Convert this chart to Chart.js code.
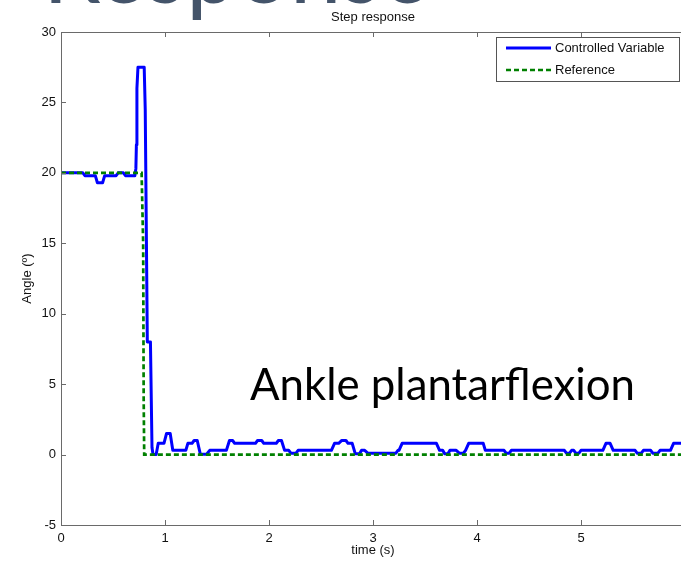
<!DOCTYPE html>
<html><head><meta charset="utf-8">
<script src="https://cdn.jsdelivr.net/npm/chart.js@4"></script>
<style>
html,body{margin:0;padding:0;background:#fff;overflow:hidden;width:681px;height:566px}
#wrap{position:absolute;left:0;top:0;width:685px;height:566px}
</style>
</head><body>
<div id="wrap"><canvas id="c" width="685" height="566"></canvas></div>
<script>
// ---- data ----
const cvTime  = [0,0.21,0.23,0.33,0.35,0.40,0.42,0.53,0.55,0.60,0.62,0.71,0.72,0.725,0.73,0.74,0.80,0.81,0.83,0.86,0.875,0.885,0.915,0.935,0.99,1.015,1.05,1.075,1.2,1.22,1.26,1.28,1.31,1.34,1.40,1.43,1.59,1.62,1.65,1.67,1.87,1.89,1.93,1.95,2.07,2.09,2.12,2.15,2.19,2.21,2.26,2.28,2.60,2.63,2.67,2.70,2.74,2.76,2.80,2.83,2.87,2.89,2.92,2.95,3.22,3.24,3.25,3.28,3.61,3.64,3.67,3.69,3.72,3.74,3.80,3.83,3.87,3.89,3.92,4.06,4.08,4.26,4.28,4.31,4.33,4.84,4.86,4.89,4.91,4.93,4.95,4.98,5.00,5.21,5.24,5.28,5.31,5.52,5.54,5.58,5.60,5.67,5.69,5.74,5.76,5.86,5.89,6.0];
const cvAngle = [20,20,19.8,19.8,19.3,19.3,19.8,19.8,20,20,19.8,19.8,20.3,22,26,27.5,27.5,24.5,8,8,0.5,0,0,0.8,0.8,1.5,1.5,0.3,0.3,0.8,0.8,1.0,1.0,0.02,0.02,0.3,0.3,1.0,1.0,0.8,0.8,1.0,1.0,0.8,0.8,1.0,1.0,0.3,0.3,0.1,0.1,0.3,0.3,0.8,0.8,1.0,1.0,0.8,0.8,0.05,0.05,0.3,0.3,0.1,0.1,0.3,0.3,0.8,0.8,0.3,0.3,0.05,0.05,0.3,0.3,0.1,0.1,0.3,0.8,0.8,0.3,0.3,0.1,0.1,0.3,0.3,0.1,0.1,0.3,0.3,0.1,0.1,0.3,0.3,0.8,0.8,0.3,0.3,0.1,0.1,0.3,0.3,0.1,0.1,0.3,0.3,0.8,0.8];
const refTime  = [0,0.775,0.79,0.795,0.80,6.0];
const refAngle = [20,20,15,4,0,0];
const xTicks = [0,1,2,3,4,5,6];
const yTicks = [-5,0,5,10,15,20,25,30];
const seriesLabels = ['Controlled Variable','Reference'];
const seriesColors = ['#0000ff','#008000'];
const chartTitle = 'Step response';
const xLabel = 'time (s)';
const yLabel = 'Angle (\u00BA)';
const slideTitle = 'Response';
const annotation = 'Ankle plantarflexion';

const FONT = 'Liberation Sans';
const AXIS = '#6a6a6a';

const toPts = (xs, ys) => xs.map((t, i) => ({x: t, y: ys[i]}));

function fitText(c, text, x, y, w) {
  const m = c.measureText(text).width;
  c.save();
  c.translate(x, y);
  c.scale(w / m, 1);
  c.fillText(text, 0, 0);
  c.restore();
}

const framePlugin = {
  id: 'frame',
  afterDatasetsDraw(chart) {
    const c = chart.ctx, a = chart.chartArea;
    const xs = chart.scales.x, ys = chart.scales.y;
    c.save();
    c.strokeStyle = AXIS; c.lineWidth = 1;
    c.beginPath();
    c.moveTo(a.left + 0.5, a.top + 0.5); c.lineTo(a.left + 0.5, a.bottom + 0.5);
    c.moveTo(a.left, a.top + 0.5); c.lineTo(a.right, a.top + 0.5);
    c.moveTo(a.left, a.bottom + 0.5); c.lineTo(a.right, a.bottom + 0.5);
    xTicks.forEach(v => {
      const px = Math.round(xs.getPixelForValue(v)) + 0.5;
      c.moveTo(px, a.bottom); c.lineTo(px, a.bottom - 5);
      c.moveTo(px, a.top); c.lineTo(px, a.top + 5);
    });
    yTicks.forEach(v => {
      const py = Math.round(ys.getPixelForValue(v)) + 0.5;
      c.moveTo(a.left, py); c.lineTo(a.left + 5, py);
    });
    c.stroke();
    c.restore();
  }
};

const legendPlugin = {
  id: 'boxLegend',
  afterDraw(chart) {
    const c = chart.ctx;
    const bx = 496.5, by = 37.5, bw = 183, bh = 44;
    c.save();
    c.fillStyle = '#fff'; c.fillRect(bx, by, bw, bh);
    c.strokeStyle = '#555'; c.lineWidth = 1; c.strokeRect(bx, by, bw, bh);
    const rows = [48, 70];
    chart.data.datasets.forEach((ds, i) => {
      const y = rows[i];
      c.beginPath();
      c.strokeStyle = ds.borderColor; c.lineWidth = ds.borderWidth;
      c.setLineDash(ds.borderDash || []);
      c.moveTo(506, y); c.lineTo(551, y); c.stroke();
      c.setLineDash([]);
      c.fillStyle = '#111';
      c.font = '13px "' + FONT + '"';
      c.textBaseline = 'middle'; c.textAlign = 'left';
      c.fillText(ds.label, 555, y + 0.5);
    });
    c.restore();
  }
};

const textPlugin = {
  id: 'slideText',
  afterDraw(chart) {
    const c = chart.ctx;
    c.save();
    c.textBaseline = 'alphabetic'; c.textAlign = 'left';
    c.fillStyle = '#44546a';
    c.font = '100px Lato';
    fitText(c, slideTitle, 43, 2.5, 387);
    c.fillStyle = '#000';
    c.font = '45px Lato';
    fitText(c, annotation, 250, 400, 385);
    c.restore();
  }
};

new Chart(document.getElementById('c'), {
  type: 'line',
  data: {
    datasets: [
      {label: seriesLabels[0], data: toPts(cvTime, cvAngle), borderColor: seriesColors[0], borderWidth: 3,
       pointRadius: 0, tension: 0, fill: false, order: 1, borderJoinStyle: 'round'},
      {label: seriesLabels[1], data: toPts(refTime, refAngle), borderColor: seriesColors[1], borderWidth: 2.7,
       borderDash: [5, 3], pointRadius: 0, tension: 0, fill: false, order: 0}
    ]
  },
  options: {
    responsive: false, animation: false, devicePixelRatio: 1,
    layout: {padding: 0},
    plugins: {
      legend: {display: false},
      tooltip: {enabled: false},
      title: {display: true, text: chartTitle, fullSize: false, color: '#111',
              font: {family: FONT, size: 13, weight: 'normal'}, padding: {top: 9.2, bottom: 7.2}}
    },
    scales: {
      x: {
        type: 'linear', min: 0, max: 6,
        afterBuildTicks: s => { s.ticks = xTicks.map(v => ({value: v})); },
        afterFit: s => { s.height = 41; s.paddingLeft = 0; s.paddingRight = 0; },
        grid: {display: false, drawTicks: false}, border: {display: false},
        ticks: {padding: 6, color: '#111', autoSkip: false, maxRotation: 0, font: {family: FONT, size: 13}},
        title: {display: true, text: xLabel, color: '#111', padding: {top: 0, bottom: 8}, font: {family: FONT, size: 13}}
      },
      y: {
        type: 'linear', min: -5, max: 30,
        afterBuildTicks: s => { s.ticks = yTicks.map(v => ({value: v})); },
        afterFit: s => { s.width = 61; s.paddingTop = 0; s.paddingBottom = 0; },
        grid: {display: false, drawTicks: false}, border: {display: false},
        ticks: {padding: 5, color: '#111', font: {family: FONT, size: 13}},
        title: {display: true, text: yLabel, color: '#111', padding: {top: 19.2, bottom: 0}, font: {family: FONT, size: 13}}
      }
    }
  },
  plugins: [framePlugin, legendPlugin, textPlugin]
});
</script>
</body></html>
